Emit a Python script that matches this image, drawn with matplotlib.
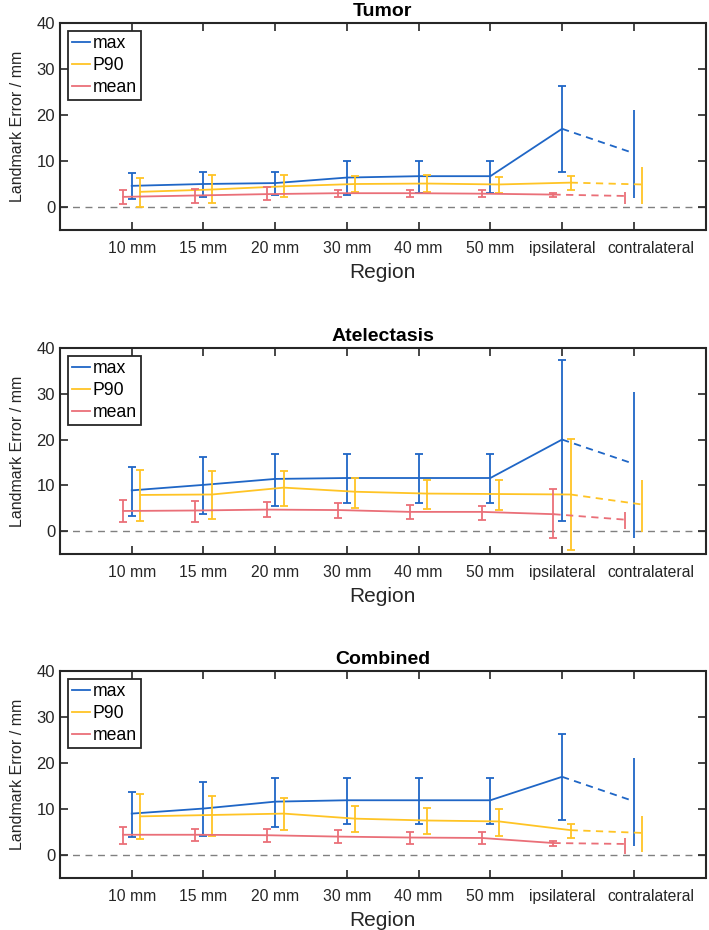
import matplotlib
matplotlib.use("Agg")
import matplotlib.pyplot as plt
import matplotlib.transforms as mtransforms
import numpy as np

plt.rcParams['font.family'] = ['Liberation Sans', 'DejaVu Sans']

regions = ["10 mm", "15 mm", "20 mm", "30 mm", "40 mm", "50 mm", "ipsilateral", "contralateral"]
panels = ["Tumor", "Atelectasis", "Combined"]

# ---- Tumor ----
tumor_max = [4.6, 5.0, 5.2, 6.4, 6.7, 6.7, 17.0, 11.7]
tumor_max_lo = [1.7, 2.2, 2.5, 2.5, 3.0, 3.0, 7.7, 2.0]
tumor_max_hi = [7.4, 7.7, 7.7, 10.0, 10.1, 10.1, 26.2, 21.0]
tumor_p90 = [3.3, 3.8, 4.5, 5.0, 5.1, 4.9, 5.3, 4.9]
tumor_p90_lo = [0.0, 0.9, 2.1, 3.3, 3.3, 3.1, 3.7, 0.6]
tumor_p90_hi = [6.3, 7.0, 7.0, 6.7, 7.0, 6.5, 6.7, 8.7]
tumor_mean = [2.2, 2.5, 2.8, 3.0, 3.0, 2.9, 2.7, 2.4]
tumor_mean_lo = [0.6, 0.9, 1.5, 2.2, 2.1, 2.1, 2.2, 0.6]
tumor_mean_hi = [3.7, 4.0, 4.3, 3.7, 3.8, 3.7, 3.0, 3.3]

# ---- Atelectasis ----
atel_max = [8.9, 10.1, 11.4, 11.6, 11.6, 11.6, 20.0, 14.7]
atel_max_lo = [3.4, 3.7, 5.5, 6.1, 6.1, 6.1, 2.3, -1.4]
atel_max_hi = [13.9, 16.1, 16.8, 16.9, 16.9, 16.9, 37.4, 30.4]
atel_p90 = [7.9, 8.0, 9.5, 8.6, 8.2, 8.1, 8.0, 5.8]
atel_p90_lo = [2.3, 2.7, 5.5, 5.1, 4.9, 4.7, -4.2, -0.3]
atel_p90_hi = [13.4, 13.1, 13.2, 11.7, 11.2, 11.2, 20.2, 11.2]
atel_mean = [4.4, 4.5, 4.7, 4.6, 4.2, 4.2, 3.7, 2.5]
atel_mean_lo = [1.9, 2.0, 3.0, 2.8, 2.6, 2.5, -1.5, 0.4]
atel_mean_hi = [6.8, 6.6, 6.4, 6.1, 5.6, 5.5, 9.1, 4.2]

# ---- Combined ----
comb_max = [9.0, 10.1, 11.6, 11.9, 11.9, 11.9, 17.0, 11.7]
comb_max_lo = [3.9, 4.2, 6.1, 6.7, 6.8, 6.8, 7.6, 2.0]
comb_max_hi = [13.8, 15.9, 16.8, 16.8, 16.8, 16.8, 26.3, 21.0]
comb_p90 = [8.4, 8.7, 9.0, 7.9, 7.5, 7.3, 5.4, 4.8]
comb_p90_lo = [3.5, 4.1, 5.5, 4.9, 4.5, 4.2, 3.7, 0.6]
comb_p90_hi = [13.3, 12.9, 12.4, 10.6, 10.2, 10.0, 6.7, 8.5]
comb_mean = [4.4, 4.4, 4.3, 4.0, 3.8, 3.7, 2.6, 2.4]
comb_mean_lo = [2.5, 3.1, 2.8, 2.6, 2.5, 2.5, 2.0, 0.3]
comb_mean_hi = [6.0, 5.7, 5.7, 5.4, 4.9, 4.9, 3.1, 3.7]

data = {
    "Tumor": [("max", tumor_max, tumor_max_lo, tumor_max_hi),
              ("P90", tumor_p90, tumor_p90_lo, tumor_p90_hi),
              ("mean", tumor_mean, tumor_mean_lo, tumor_mean_hi)],
    "Atelectasis": [("max", atel_max, atel_max_lo, atel_max_hi),
                    ("P90", atel_p90, atel_p90_lo, atel_p90_hi),
                    ("mean", atel_mean, atel_mean_lo, atel_mean_hi)],
    "Combined": [("max", comb_max, comb_max_lo, comb_max_hi),
                 ("P90", comb_p90, comb_p90_lo, comb_p90_hi),
                 ("mean", comb_mean, comb_mean_lo, comb_mean_hi)],
}

colors = {"max": "#1f66c6", "P90": "#ffc425", "mean": "#ea6f78"}
offsets = {"max": 0.0, "P90": 0.12, "mean": -0.12}

W, H = 709, 930
fig = plt.figure(figsize=(W / 100, H / 100), dpi=100)

boxes = [(23, 230), (348, 554), (671, 878)]
left_px, right_px = 60, 705.5
lw = 1.3
txt = "#262626"

for (top, bot), name in zip(boxes, panels):
    ax = fig.add_axes([left_px / W, 1 - bot / H, (right_px - left_px) / W, (bot - top) / H])
    x = np.arange(1, len(regions) + 1)
    ax.axhline(0, color="#808080", lw=1.0, ls=(0, (5, 4)), zorder=1)
    handles = []
    for label, vals, lo, hi in data[name]:
        c = colors[label]
        v = np.array(vals)
        l = np.array(lo)
        h = np.array(hi)
        xs = x + offsets[label]
        n = len(regions)
        line, = ax.plot(xs[:n - 1], v[:n - 1], color=c, lw=lw, zorder=3)
        handles.append(line)
        ax.plot(xs[n - 2:], v[n - 2:], color=c, lw=lw, ls=(0, (4, 3)), zorder=3)
        ax.errorbar(xs[:n - 1], v[:n - 1], yerr=[v[:n - 1] - l[:n - 1], h[:n - 1] - v[:n - 1]],
                    fmt="none", ecolor=c, elinewidth=lw, capsize=3.2, capthick=lw, zorder=3)
        ax.errorbar(xs[n - 1:], v[n - 1:], yerr=[v[n - 1:] - l[n - 1:], h[n - 1:] - v[n - 1:]],
                    fmt="none", ecolor=c, elinewidth=lw, capsize=0, zorder=3)
    ax.set_xlim(0, 9)
    ax.set_ylim(-5, 40)
    ax.set_yticks([0, 10, 20, 30, 40])
    ax.set_xticks(x)
    ax.set_xticklabels(regions, fontsize=11.3)
    ax.tick_params(axis="y", labelsize=12)
    ax.tick_params(direction="in", top=True, right=True, length=6, width=1.2, color=txt,
                   labelcolor=txt)
    ax.tick_params(axis="x", pad=8)
    # last label is nudged right in the original to avoid overlap
    last = ax.get_xticklabels()[-1]
    last.set_transform(last.get_transform() +
                       mtransforms.ScaledTranslation(0.17, 0, fig.dpi_scale_trans))
    for s in ax.spines.values():
        s.set_linewidth(1.5)
        s.set_color(txt)
    ax.set_title(name, fontsize=14, fontweight="bold", pad=5)
    ax.set_xlabel("Region", fontsize=15, labelpad=5, color=txt)
    ax.set_ylabel("Landmark Error / mm", fontsize=11.5, labelpad=8, color=txt)
    leg = ax.legend(handles, ["max", "P90", "mean"], loc="upper left", fontsize=12.7,
                    handlelength=1.0, handletextpad=0.15, borderpad=0.25, labelspacing=0.27,
                    borderaxespad=0.45, fancybox=False, framealpha=1)
    leg.get_frame().set_edgecolor(txt)
    leg.get_frame().set_linewidth(1.3)

fig.savefig("out.png", dpi=100)
